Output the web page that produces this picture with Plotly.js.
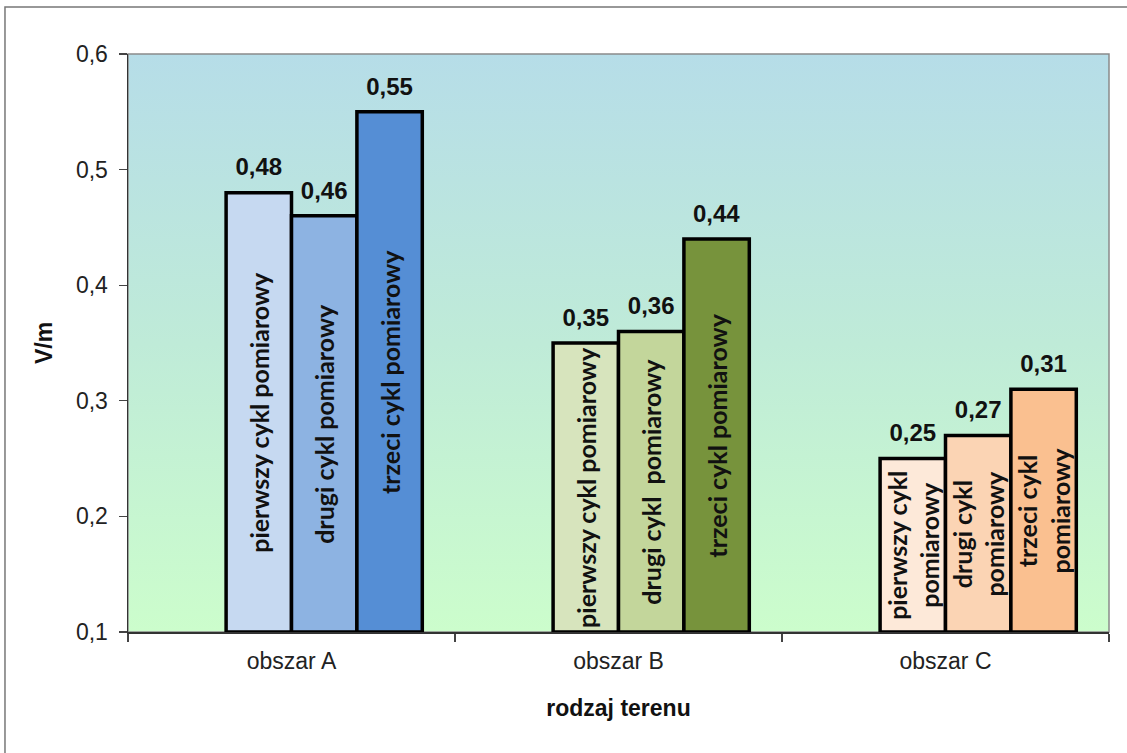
<!DOCTYPE html>
<html>
<head>
<meta charset="utf-8">
<script src="https://cdn.plot.ly/plotly-3.0.1.min.js"></script>
<style>
  html, body { margin: 0; padding: 0; background: #fff; }
  #chart { width: 1127px; height: 753px; }
</style>
</head>
<body>
<div id="chart"></div>
<script>
// Terrain types on the category axis
const areas = ['obszar A', 'obszar B', 'obszar C'];

// Measured field strength (V/m) for each measurement cycle
const cycle1 = [0.48, 0.35, 0.25];
const cycle2 = [0.46, 0.36, 0.27];
const cycle3 = [0.55, 0.44, 0.31];

// Labels written inside the bars (two lines in the narrow group C)
const cycle1Labels = ['pierwszy cykl pomiarowy', 'pierwszy cykl pomiarowy', 'pierwszy cykl<br>pomiarowy'];
const cycle2Labels = ['drugi cykl pomiarowy', 'drugi cykl  pomiarowy', 'drugi cykl<br>pomiarowy'];
const cycle3Labels = ['trzeci cykl pomiarowy', 'trzeci cykl pomiarowy', 'trzeci cykl<br>pomiarowy'];

// Bar fills: one colour family per terrain type
const cycle1Colors = ['#c6d9f1', '#d7e4bd', '#fde9d9'];
const cycle2Colors = ['#8db3e2', '#c3d69b', '#fbd4b4'];
const cycle3Colors = ['#558ed5', '#77933c', '#fac090'];

// The value axis starts at 0.1, so bars rise from there
const axisFloor = 0.1;
const axisTop = 0.6;
// small lift of the value-label layer so the labels clear the bar outline
const labelLift = 0.008;

// Bar slots within each category (category units): the cluster sits
// just right of the category centre
const barWidth = 0.2;
const slotOffsets = [-0.2, 0.0, 0.2];

const labelFont = { family: 'Lato, "Open Sans", sans-serif', size: 25, color: '#111', weight: 'bold' };
const valueFont = { family: '"Liberation Sans", Arial, sans-serif', size: 24, color: '#111', weight: 'bold' };

function filledBars(name, values, labels, colors, slot) {
  return {
    type: 'bar', name: name, x: areas,
    base: values.map(() => axisFloor),
    y: values.map(v => v - axisFloor),
    customdata: values,
    width: barWidth, offset: slotOffsets[slot],
    xaxis: 'x', yaxis: 'y',
    marker: { color: colors, line: { color: '#000', width: 3.5 } },
    text: labels, textposition: 'inside', textangle: -90,
    insidetextanchor: 'middle', constraintext: 'none',
    insidetextfont: labelFont,
    hovertemplate: '%{x}: %{customdata}<extra>' + name + '</extra>'
  };
}

// Transparent copies on an overlaid value axis carry the labels above each bar
function valueBars(name, values, slot) {
  return {
    type: 'bar', name: name, x: areas, y: values,
    width: barWidth, offset: slotOffsets[slot],
    xaxis: 'x', yaxis: 'y2',
    marker: { color: 'rgba(0,0,0,0)', line: { width: 0 } },
    texttemplate: '%{y:.2f}', textposition: 'outside', textangle: 0,
    cliponaxis: false, constraintext: 'none',
    outsidetextfont: valueFont,
    hoverinfo: 'skip'
  };
}

const data = [
  filledBars('pierwszy cykl pomiarowy', cycle1, cycle1Labels, cycle1Colors, 0),
  filledBars('drugi cykl pomiarowy', cycle2, cycle2Labels, cycle2Colors, 1),
  filledBars('trzeci cykl pomiarowy', cycle3, cycle3Labels, cycle3Colors, 2),
  valueBars('pierwszy', cycle1, 0),
  valueBars('drugi', cycle2, 1),
  valueBars('trzeci', cycle3, 2)
];

const gradientSvg =
  "<svg xmlns='http://www.w3.org/2000/svg' width='10' height='100' preserveAspectRatio='none'>" +
  "<defs><linearGradient id='g' x1='0' y1='0' x2='0' y2='1'>" +
  "<stop offset='0' stop-color='#b6dde8'/><stop offset='0.5' stop-color='#bfebd8'/>" +
  "<stop offset='1' stop-color='#ccfdcc'/></linearGradient></defs>" +
  "<rect width='10' height='100' fill='url(#g)'/></svg>";

const tickFont = { family: '"Liberation Sans", Arial, sans-serif', size: 23, color: '#222' };
const titleFont = { family: '"Liberation Sans", Arial, sans-serif', size: 23, color: '#111', weight: 'bold' };

const layout = {
  width: 1127, height: 753,
  margin: { l: 128, r: 18, t: 54, b: 121 },
  paper_bgcolor: '#ffffff',
  plot_bgcolor: 'rgba(0,0,0,0)',
  separators: ', ',
  showlegend: false,
  barmode: 'overlay',
  xaxis: {
    type: 'category', range: [-0.5, 2.5],
    showline: true, linecolor: '#333', linewidth: 1.5,
    ticks: 'outside', tickson: 'boundaries', ticklen: 8, tickcolor: '#444', tickwidth: 1.3,
    ticklabelstandoff: 8,
    tickfont: tickFont, showgrid: false, zeroline: false,
    title: { text: 'rodzaj terenu', font: titleFont, standoff: 27 }
  },
  yaxis: {
    range: [axisFloor, axisTop], dtick: 0.1, tickformat: '.1f',
    showline: true, linecolor: '#333', linewidth: 1.5,
    ticks: 'outside', ticklen: 8, tickcolor: '#444', tickwidth: 1.3,
    ticklabelstandoff: 6,
    tickfont: tickFont, showgrid: false, zeroline: false,
    title: { text: 'V/m', font: titleFont, standoff: 17 }
  },
  yaxis2: {
    range: [axisFloor - labelLift, axisTop - labelLift], overlaying: 'y',
    visible: false, showgrid: false, zeroline: false
  },
  images: [{
    source: 'data:image/svg+xml;charset=utf-8,' + encodeURIComponent(gradientSvg),
    xref: 'paper', yref: 'paper', x: 0, y: 1, sizex: 1, sizey: 1,
    xanchor: 'left', yanchor: 'top', sizing: 'stretch', layer: 'below'
  }],
  shapes: [
    // plot area frame
    { type: 'rect', xref: 'paper', yref: 'paper', x0: 0, x1: 1, y0: 0, y1: 1,
      line: { color: '#8a8a8a', width: 1.5 }, layer: 'below' },
    // outer chart frame
    { type: 'rect', xref: 'paper', yref: 'paper', x0: -0.1254, x1: 1.03, y0: -0.23, y1: 1.0813,
      line: { color: '#777', width: 1.5 }, fillcolor: 'rgba(0,0,0,0)' }
  ]
};

Plotly.newPlot('chart', data, layout, { displayModeBar: false, staticPlot: true });
</script>
</body>
</html>
